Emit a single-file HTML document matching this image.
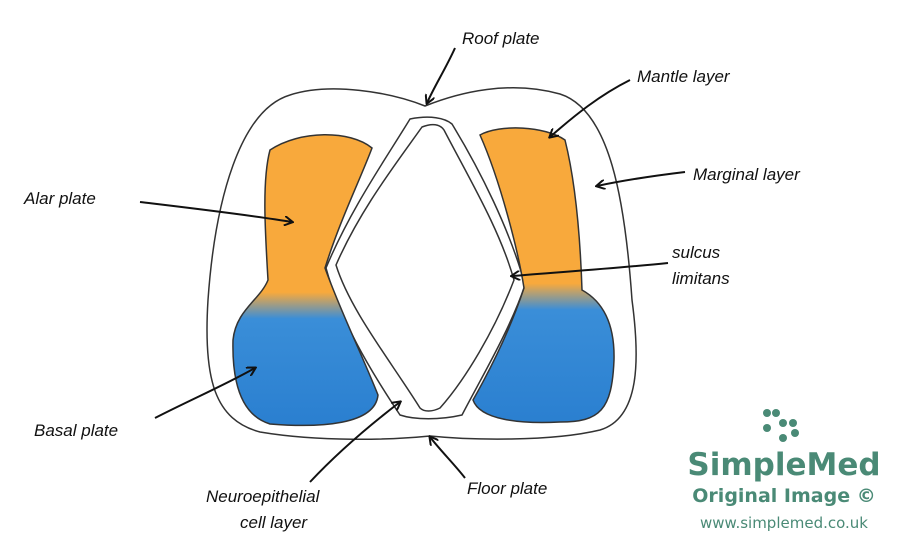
<!DOCTYPE html>
<html><head><style>
body{margin:0;background:#fff;width:905px;height:546px;overflow:hidden}
svg{display:block}
.t{font-family:"Liberation Sans",sans-serif;font-size:17px;fill:#111;font-style:italic}
</style></head><body>
<svg width="905" height="546" viewBox="0 0 905 546">
<defs>
<linearGradient id="g1" gradientUnits="userSpaceOnUse" x1="0" y1="130" x2="0" y2="425">
<stop offset="0" stop-color="#f8a93c"/><stop offset="0.55" stop-color="#f8a93c"/><stop offset="0.64" stop-color="#3a8ed8"/><stop offset="1" stop-color="#2a7fd0"/>
</linearGradient>
<linearGradient id="g2" gradientUnits="userSpaceOnUse" x1="0" y1="130" x2="0" y2="425">
<stop offset="0" stop-color="#f8a93c"/><stop offset="0.52" stop-color="#f8a93c"/><stop offset="0.61" stop-color="#3a8ed8"/><stop offset="1" stop-color="#2a7fd0"/>
</linearGradient>
<marker id="a" markerWidth="10" markerHeight="10" refX="8" refY="5" orient="auto" markerUnits="userSpaceOnUse"><path d="M0,0 L9,5 L0,10" fill="none" stroke="#111" stroke-width="2"/></marker>
</defs>
<g fill="none" stroke="#333" stroke-width="1.5">
<path d="M425,106 C390,92 330,82 290,95 C240,110 215,200 208,300 C203,380 215,420 260,432 C320,442 390,440 430,436 C470,440 550,442 600,430 C640,418 640,360 632,300 C625,200 610,110 560,94 C510,80 460,92 425,106 Z"/>
<path d="M410,119 C430,115 445,118 452,124 C480,170 510,230 525,285 C510,330 480,380 462,415 C440,420 415,420 400,415 C370,370 340,320 326,268 C350,210 385,160 410,119 Z"/>
<path d="M422,127 C432,123 440,124 444,130 C470,180 500,230 514,280 C495,330 465,380 440,408 C432,412 424,412 420,408 C390,360 350,310 336,265 C360,210 395,165 422,127 Z"/>
<path d="M270,150 C300,130 350,130 372,148 C360,180 340,220 325,268 C340,310 360,350 378,395 C375,425 320,428 270,424 C240,415 232,380 233,340 C236,310 260,300 268,280 C265,230 262,180 270,150 Z" fill="url(#g1)"/>
<path d="M480,135 C500,124 545,126 565,140 C575,180 580,230 582,290 C600,300 615,320 614,360 C612,410 600,422 560,422 C520,424 480,420 473,400 C490,370 510,330 524,288 C518,250 500,180 480,135 Z" fill="url(#g2)"/>
</g>
<g stroke="#111" stroke-width="2" fill="none">
<path d="M455,48 C445,70 435,85 427,103" marker-end="url(#a)"/>
<path d="M630,80 C600,95 575,115 550,137" marker-end="url(#a)"/>
<path d="M685,172 C660,175 625,180 597,186" marker-end="url(#a)"/>
<path d="M140,202 C190,208 250,215 292,222" marker-end="url(#a)"/>
<path d="M668,263 C620,268 560,272 512,276" marker-end="url(#a)"/>
<path d="M155,418 C190,400 225,385 255,368" marker-end="url(#a)"/>
<path d="M310,482 C340,450 370,425 400,402" marker-end="url(#a)"/>
<path d="M465,478 C455,465 440,450 430,437" marker-end="url(#a)"/>
</g>
<text class="t" x="462" y="44">Roof plate</text>
<text class="t" x="637" y="82">Mantle layer</text>
<text class="t" x="693" y="180">Marginal layer</text>
<text class="t" x="24" y="204">Alar plate</text>
<text class="t" x="672" y="258">sulcus</text>
<text class="t" x="672" y="284">limitans</text>
<text class="t" x="34" y="436">Basal plate</text>
<text class="t" x="206" y="502">Neuroepithelial</text>
<text class="t" x="240" y="528">cell layer</text>
<text class="t" x="467" y="494">Floor plate</text>
<g fill="#4a8a76">
<circle cx="767" cy="413" r="4"/><circle cx="776" cy="413" r="4"/><circle cx="783" cy="423" r="4"/><circle cx="793" cy="423" r="4"/><circle cx="767" cy="428" r="4"/><circle cx="783" cy="438" r="4"/><circle cx="795" cy="433" r="4"/>
<text x="784" y="475" text-anchor="middle" font-family="DejaVu Sans,sans-serif" font-size="31" font-weight="bold">SimpleMed</text>
<text x="784" y="502" text-anchor="middle" font-family="DejaVu Sans,sans-serif" font-size="19" font-weight="bold">Original Image ©</text>
<text x="784" y="528" text-anchor="middle" font-family="DejaVu Sans,sans-serif" font-size="15">www.simplemed.co.uk</text>
</g>
</svg>
</body></html>
